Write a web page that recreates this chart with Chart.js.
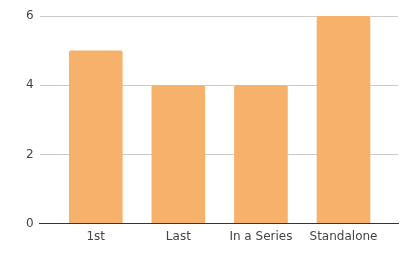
<!DOCTYPE html>
<html>
<head>
<meta charset="utf-8">
<script src="https://cdn.jsdelivr.net/npm/chart.js@4/dist/chart.umd.min.js"></script>
<style>
  html, body { margin: 0; padding: 0; background: #fff; }
  #wrap { width: 405px; height: 253px; }
</style>
</head>
<body>
<div id="wrap"><canvas id="myChart" width="405" height="253"></canvas></div>
<script>
const categories = ['1st', 'Last', 'In a Series', 'Standalone'];
const values = [5, 4, 4, 6];
const yTicks = [0, 2, 4, 6];

const ctx = document.getElementById('myChart').getContext('2d');
const myChart = new Chart(ctx, {
    type: 'bar',
    data: {
        labels: categories,
        datasets: [{
            data: values,
            backgroundColor: '#f6b26b',
            borderWidth: 0,
            borderRadius: 2,
            borderSkipped: 'bottom',
            barPercentage: 0.65,
            categoryPercentage: 1
        }]
    },
    options: {
        responsive: false,
        animation: false,
        layout: { padding: { top: 16, right: 7, left: 20, bottom: 3 } },
        plugins: { legend: { display: false }, tooltip: { enabled: false } },
        scales: {
            x: {
                // extra space at both ends of the category axis
                afterBuildTicks: axis => {
                    axis._startValue -= 0.18;
                    axis._valueRange += 0.34;
                },
                grid: { display: false, drawTicks: false },
                border: { display: true, color: '#333', width: 1 },
                ticks: { color: '#444', font: { family: 'DejaVu Sans', size: 12 }, padding: 6 }
            },
            y: {
                min: 0,
                max: 6,
                afterBuildTicks: axis => { axis.ticks = yTicks.map(v => ({ value: v })); },
                grid: { color: '#cccccc', drawTicks: false },
                border: { display: false },
                ticks: { color: '#444', font: { family: 'DejaVu Sans', size: 12 }, padding: 6 }
            }
        }
    }
});
</script>
</body>
</html>
